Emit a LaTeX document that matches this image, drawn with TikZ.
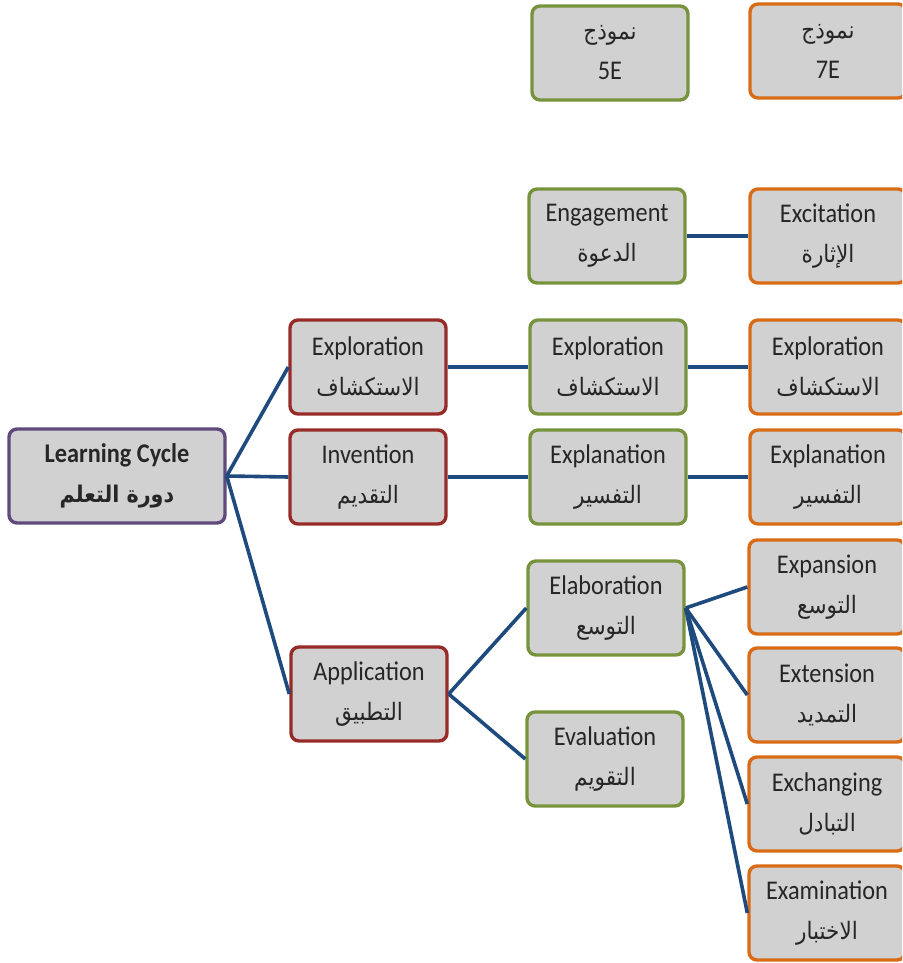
\documentclass[tikz,border=0pt]{standalone}
\usepackage{fontspec}
\setmainfont{Carlito}[FakeStretch=0.9]
\newfontfamily\arfont[Script=Arabic,FakeStretch=0.9]{DejaVu Sans}
\TeXXeTstate=1
\definecolor{boxgray}{HTML}{D1D1D1}
\definecolor{cgreen}{HTML}{77933C}
\definecolor{corange}{HTML}{D96B16}
\definecolor{cred}{HTML}{962B28}
\definecolor{cpurple}{HTML}{604A7B}
\definecolor{cline}{HTML}{1F4A7D}
\newcommand{\ar}[1]{{\arfont\fontsize{24}{40}\selectfont\beginR #1\endR}}
\tikzset{
  box/.style={draw, fill=boxgray, rounded corners=8pt, line width=3.4pt,
    minimum width=156pt, minimum height=94pt, inner sep=0pt, align=center,
    font=\fontsize{27}{40}\selectfont, text=black!85},
  gbox/.style={box, draw=cgreen},
  obox/.style={box, draw=corange},
  rbox/.style={box, draw=cred},
  pbox/.style={box, draw=cpurple, minimum width=216pt},
  conn/.style={draw=cline, line width=3.6pt}
}
\begin{document}
\begin{tikzpicture}[x=1pt,y=-1pt]
\useasboundingbox (0,0) rectangle (902,963);
\clip (0,0) rectangle (902,963);
% headers
\node[gbox] (h5) at (610,53) {\ar{نموذج}\\5E};
\node[obox] (h7) at (828,51) {\ar{نموذج}\\7E};
% 5E column
\node[gbox] (eng) at (607,236) {Engagement\\\ar{الدعوة}};
\node[gbox] (exg) at (608,367) {Exploration\\\ar{الاستكشاف}};
\node[gbox] (exp5) at (608,477) {Explanation\\\ar{التفسير}};
\node[gbox] (ela) at (606,608) {Elaboration\\\ar{التوسع}};
\node[gbox] (eva) at (605,759) {Evaluation\\\ar{التقويم}};
% 7E column
\node[obox] (exc) at (828,236) {Excitation\\\ar{الإثارة}};
\node[obox] (exo) at (828,367) {Exploration\\\ar{الاستكشاف}};
\node[obox] (exp7) at (828,477) {Explanation\\\ar{التفسير}};
\node[obox] (expa) at (827,587) {Expansion\\\ar{التوسع}};
\node[obox] (exte) at (827,695) {Extension\\\ar{التمديد}};
\node[obox] (exch) at (827,804) {Exchanging\\\ar{التبادل}};
\node[obox] (exam) at (827,913) {Examination\\\ar{الاختبار}};
% learning cycle column
\node[rbox] (lexp) at (368,367) {Exploration\\\ar{الاستكشاف}};
\node[rbox] (linv) at (368,477) {Invention\\\ar{التقديم}};
\node[rbox] (lapp) at (369,694) {Application\\\ar{التطبيق}};
\node[pbox] (lc) at (117,476) {\bfseries Learning Cycle\\{\arfont\bfseries\fontsize{23}{40}\selectfont\beginR دورة التعلم\endR}};
% connectors
\draw[conn] (lc.east) -- (lexp.west);
\draw[conn] (lc.east) -- (linv.west);
\draw[conn] (lc.east) -- (lapp.west);
\draw[conn] (lexp.east) -- (exg.west);
\draw[conn] (linv.east) -- (exp5.west);
\draw[conn] (eng.east) -- (exc.west);
\draw[conn] (exg.east) -- (exo.west);
\draw[conn] (exp5.east) -- (exp7.west);
\draw[conn] (lapp.east) -- (ela.west);
\draw[conn] (lapp.east) -- (eva.west);
\draw[conn] (ela.east) -- (expa.west);
\draw[conn] (ela.east) -- (exte.west);
\draw[conn] (ela.east) -- (exch.west);
\draw[conn] (ela.east) -- (exam.west);
\end{tikzpicture}
\end{document}
